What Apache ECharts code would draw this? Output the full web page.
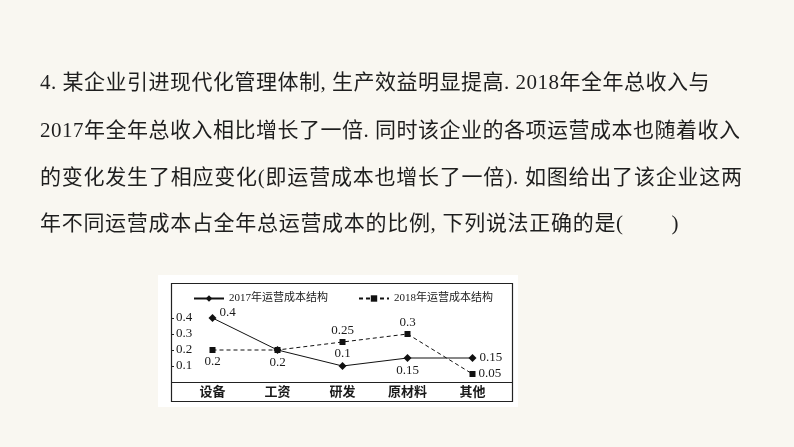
<!DOCTYPE html>
<html>
<head>
<meta charset="utf-8">
<script src="https://cdn.jsdelivr.net/npm/echarts@6/dist/echarts.min.js"></script>
<style>
html,body{margin:0;padding:0;background:#f9f7f1;}
#wrap{position:relative;width:794px;height:447px;overflow:hidden;background:#f9f7f1;}
#chart{position:absolute;left:0;top:0;width:794px;height:447px;}
.ln{position:absolute;left:40px;height:30px;line-height:30px;font-size:21px;letter-spacing:0.5px;
 font-family:"Liberation Serif","Noto Sans CJK SC",serif;color:#1e1e1e;white-space:pre;}
</style>
</head>
<body>
<div id="wrap">
<div id="chart"></div>
<div class="ln" style="top:67px">4. 某企业引进现代化管理体制, 生产效益明显提高. 2018年全年总收入与</div>
<div class="ln" style="top:115px">2017年全年总收入相比增长了一倍. 同时该企业的各项运营成本也随着收入</div>
<div class="ln" style="top:162px;letter-spacing:0.78px">的变化发生了相应变化(即运营成本也增长了一倍). 如图给出了该企业这两</div>
<div class="ln" style="top:208px;letter-spacing:0.7px">年不同运营成本占全年总运营成本的比例, 下列说法正确的是(        )</div>
</div>
<script>
var categories = ['设备', '工资', '研发', '原材料', '其他'];
var seriesNames = ['2017年运营成本结构', '2018年运营成本结构'];
var values2017 = [0.4, 0.2, 0.1, 0.15, 0.15];
var values2018 = [0.2, 0.2, 0.25, 0.3, 0.05];
var labelPos2017 = ['topRight', 'bottom', 'top', 'bottom', 'right'];
var labelPos2018 = ['bottom', 'none', 'top', 'top', 'right'];
var yTicks = [0.1, 0.2, 0.3, 0.4];

var FONT = '"Liberation Serif","Noto Sans CJK SC",serif';
var TXT = '#1a1a1a';

function buildData(vals, pos) {
  return vals.map(function (v, i) {
    var p = pos[i];
    var lab;
    if (p === 'none') lab = { show: false };
    else if (p === 'topRight') lab = { show: true, position: 'right', distance: 3, offset: [0, -5] };
    else lab = { show: true, position: p, distance: p === 'right' ? 3 : 2 };
    return { value: v, label: lab };
  });
}

var chart = echarts.init(document.getElementById('chart'));
chart.setOption({
  backgroundColor: 'transparent',
  animation: false,
  graphic: [
    { type: 'rect', z: -10, shape: { x: 158, y: 275, width: 360, height: 132 }, style: { fill: '#ffffff' } },
    { type: 'rect', z: -9, shape: { x: 171.5, y: 283.5, width: 341, height: 118 }, style: { fill: '#ffffff', stroke: '#222', lineWidth: 1.2 } },
    { type: 'line', z: 1, shape: { x1: 171.5, y1: 382.5, x2: 512.5, y2: 382.5 }, style: { stroke: '#222', lineWidth: 1.2 } }
  ],
  grid: { left: 180, right: 289, top: 286, bottom: 65, containLabel: false },
  legend: {
    left: 188, top: 288, itemGap: 30, itemWidth: 30, itemHeight: 8,
    textStyle: { fontFamily: FONT, fontSize: 11, color: TXT },
    data: seriesNames
  },
  xAxis: {
    type: 'category', data: categories, boundaryGap: true,
    axisLine: { show: false }, axisTick: { show: false },
    axisLabel: { fontFamily: FONT, fontSize: 13, color: TXT, fontWeight: 'bold', margin: 4 }
  },
  yAxis: {
    type: 'value', min: 0, max: 0.6, interval: 0.1, offset: 9,
    splitLine: { show: false }, axisLine: { show: false },
    axisTick: { show: true, inside: true, length: 3, lineStyle: { color: '#222' }, customValues: yTicks },
    axisLabel: { inside: true, margin: 5, fontFamily: FONT, fontSize: 13, color: TXT, customValues: yTicks,
      formatter: function (v) { return (+v).toFixed(1); } }
  },
  series: [
    {
      name: seriesNames[0], type: 'line', data: buildData(values2017, labelPos2017),
      symbol: 'diamond', symbolSize: 8, z: 3,
      itemStyle: { color: '#111' }, lineStyle: { color: '#111', width: 1 },
      label: { fontFamily: FONT, fontSize: 13, color: TXT }
    },
    {
      name: seriesNames[1], type: 'line', data: buildData(values2018, labelPos2018),
      symbol: 'rect', symbolSize: 6, z: 2,
      itemStyle: { color: '#111' }, lineStyle: { color: '#111', width: 1, type: [4, 3] },
      label: { fontFamily: FONT, fontSize: 13, color: TXT }
    }
  ]
});
</script>
</body>
</html>
